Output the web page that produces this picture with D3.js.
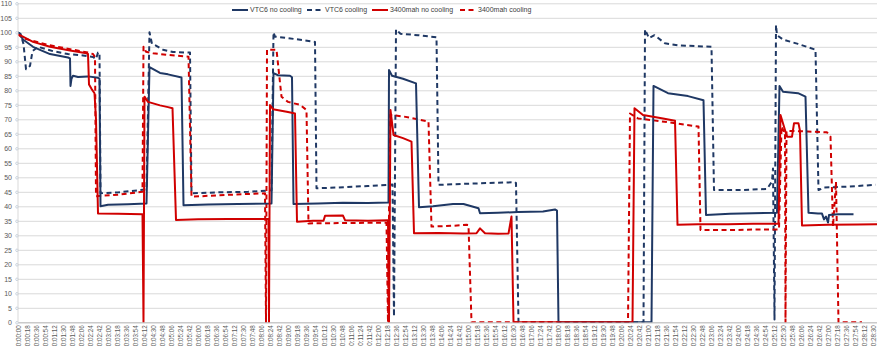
<!DOCTYPE html>
<html>
<head>
<meta charset="utf-8">
<script src="https://cdn.jsdelivr.net/npm/d3@7"></script>
<style>
    body { margin: 0; background: #fff; }
    svg { display: block; font-family: "Liberation Sans", "DejaVu Sans", sans-serif; }
    .y-axis text { font-size: 7px; fill: #595959; }
    .x-axis text { font-size: 6.3px; fill: #595959; }
    .legend text { font-size: 7px; fill: #404040; }
</style>
</head>
<body>
<div id="chart"></div>
<script>
// series names, in legend order
const seriesNames = ["VTC6 no cooling", "VTC6 cooling", "3400mah no cooling", "3400mah cooling"];

// y axis tick values
const yTicks = d3.range(0, 111, 5);

// x axis: a label every 18 seconds, from 0:00:00 to 0:28:30
const xTickSeconds = d3.range(0, 1711, 18);

// [seconds, value]
const vtc6NoCooling = [
    [0, 100], [3, 99.5], [10, 97.5], [30, 95], [64, 92.5], [100, 91.3], [104, 91], [105, 81.5], [107, 84],
    [110, 85], [120, 84.6], [140, 84.8], [160, 84.3], [163, 84], [165, 40], [180, 40.5], [220, 40.7],
    [257, 41], [263, 88], [284, 86], [300, 85.5], [327, 84.4], [331, 40.4], [380, 40.6], [440, 40.8],
    [507, 41], [511, 85.9], [520, 85.2], [544, 85], [548, 84.5], [551, 40.8], [600, 41], [650, 41.2],
    [700, 41.1], [741, 41.3], [742, 87], [748, 85], [770, 84], [796, 82.4], [802, 39.7], [830, 40],
    [870, 40.8], [891, 40.8], [921, 39.3], [924, 37.6], [960, 37.8], [1000, 38], [1050, 38.2],
    [1074, 38.9], [1078, 38.5], [1081, 0], [1267, 0], [1271, 81.5], [1300, 79], [1340, 78],
    [1371, 76.6], [1376, 37], [1424, 37.4], [1470, 37.6], [1518, 37.8], [1523, 81.5], [1530, 79.5],
    [1560, 79], [1575, 77.8], [1581, 37.8], [1600, 37.5], [1608, 37.5], [1612, 35.5], [1616, 36.5],
    [1620, 34.4], [1622, 37], [1640, 37.3], [1671, 37.3]
];

const vtc6Cooling = [
    [0, 100], [5, 99.5], [11, 96], [16, 87.3], [24, 88.4], [29, 93.5], [40, 95], [70, 93.5], [100, 92.5],
    [130, 92], [150, 91.5], [156, 90.8], [160, 93], [163, 93], [165, 44.5], [200, 44.8], [240, 45.5],
    [257, 45.8], [263, 100], [268, 96], [275, 95.5], [290, 94], [310, 93.2], [344, 93], [347, 44.5],
    [400, 44.8], [460, 45], [507, 45.5], [511, 100], [514, 98.5], [540, 98], [594, 96.7], [597, 46.2],
    [640, 46.5], [700, 47], [749, 47.5], [752, 2], [756, 101], [765, 99.5], [800, 99], [837, 98.3],
    [841, 47.4], [900, 47.8], [994, 48.3], [996, 48], [1001, 0], [1251, 0], [1254, 101], [1262, 98],
    [1273, 99], [1294, 96.2], [1320, 95.5], [1387, 95], [1392, 45.6], [1450, 45.6], [1498, 46],
    [1508, 48.5], [1510, 53], [1513, 1], [1516, 102.5], [1518, 99], [1530, 97.5], [1560, 96],
    [1595, 94], [1601, 45.6], [1612, 46.5], [1660, 46.8], [1715, 47.4]
];

const mah3400NoCooling = [
    [0, 99.2], [4, 99], [30, 96.7], [64, 95], [104, 93.7], [134, 92.9], [140, 92.5], [142, 82],
    [147, 80.5], [153, 79], [156, 70], [160, 37.5], [200, 37.4], [249, 37.3], [251, 0], [253, 77.8],
    [260, 76], [284, 74.8], [300, 74.2], [309, 73.8], [316, 35.3], [360, 35.5], [420, 35.6], [501, 35.6],
    [502, 0], [504, 74.9], [510, 73.5], [540, 72.5], [554, 72], [558, 34.7], [590, 35], [611, 35],
    [614, 36.7], [650, 36.8], [654, 35.2], [700, 35], [740, 35.2], [742, 0], [745, 73.2], [751, 64.6],
    [770, 63.5], [787, 62.3], [792, 30.7], [840, 30.8], [890, 30.6], [917, 30.7], [924, 32.4],
    [934, 30.7], [960, 30.5], [981, 30.6], [987, 36.5], [991, 0], [1229, 0], [1233, 73.8],
    [1250, 71.5], [1290, 70.3], [1314, 69.5], [1319, 33.6], [1360, 33.8], [1420, 33.8], [1470, 34],
    [1521, 34], [1525, 71.5], [1538, 64], [1548, 64], [1552, 68.6], [1561, 68.6], [1564, 66],
    [1568, 33.4], [1620, 33.6], [1680, 33.7], [1718, 33.8]
];

const mah3400Cooling = [
    [0, 99.3], [10, 98], [30, 97], [64, 95.5], [110, 94], [140, 93], [150, 92.5], [154, 91.5],
    [156, 43.5], [200, 44], [240, 44.8], [249, 45], [251, 95], [256, 93.3], [270, 92.8], [300, 92.2],
    [341, 91.6], [347, 43.3], [400, 43.8], [494, 44.5], [496, 0], [498, 94], [517, 94], [527, 77.8],
    [540, 76], [564, 75], [577, 73.2], [581, 34.1], [640, 34.2], [700, 34.3], [737, 34.3], [740, 0],
    [744, 71.5], [770, 71], [800, 70], [821, 69.2], [827, 33], [870, 33.3], [897, 33.6], [901, 33.5],
    [907, 0], [1220, 0], [1224, 72], [1240, 70.3], [1300, 69], [1361, 67.5], [1365, 31.8],
    [1420, 31.8], [1480, 32], [1522, 32], [1527, 67.5], [1531, 66], [1534, 66], [1535, 0], [1537, 66],
    [1580, 65.8], [1618, 65.5], [1625, 64], [1630, 33], [1636, 48.5], [1641, 0], [1688, 0]
];

class TimeLineChart {
    constructor(_config, _series) {
        this.config = {
            parentElement: _config.parentElement,
            width: _config.width,
            height: _config.height
        }
        this.series = _series;
        this.InitVis();
    }

    InitVis() {
        const vis = this;

        vis.margin = {top: 3.3, right: 0, bottom: 29.7, left: 18};
        vis.width = vis.config.width - vis.margin.left - vis.margin.right;
        vis.height = vis.config.height - vis.margin.top - vis.margin.bottom;

        vis.svg = d3.select(vis.config.parentElement)
            .append("svg")
            .attr("width", vis.config.width)
            .attr("height", vis.config.height);

        vis.chart = vis.svg.append("g")
            .attr("transform", `translate(${vis.margin.left},${vis.margin.top})`);

        // seconds on x, one pixel per two seconds
        vis.x = d3.scaleLinear()
            .domain([0, 1718])
            .range([0, vis.width]);

        vis.y = d3.scaleLinear()
            .domain([0, 110])
            .range([vis.height, 0]);

        vis.yG = vis.chart.append("g").attr("class", "y-axis");
        vis.xG = vis.chart.append("g")
            .attr("class", "x-axis")
            .attr("transform", `translate(0,${vis.height})`);

        vis.svg.append("clipPath")
            .attr("id", "plot-clip")
            .append("rect")
            .attr("x", 0)
            .attr("y", -4)
            .attr("width", vis.width)
            .attr("height", vis.height + 4);

        vis.lineG = vis.chart.append("g").attr("clip-path", "url(#plot-clip)");
        vis.legendG = vis.svg.append("g").attr("class", "legend");

        vis.RenderVis();
    }

    RenderVis() {
        const vis = this;

        // horizontal gridlines + labels
        vis.yG.call(d3.axisLeft(vis.y)
                .tickValues(yTicks)
                .tickSize(-vis.width)
                .tickPadding(6))
            .call(g => g.select(".domain").remove())
            .call(g => g.selectAll(".tick line")
                .attr("stroke", "#d9d9d9")
                .attr("stroke-width", 1));

        vis.yG.selectAll(".tick")
            .append("circle")
            .attr("cx", -1)
            .attr("r", 1.3)
            .attr("fill", "none")
            .attr("stroke", "#b4c3d2")
            .attr("stroke-width", 0.7);

        vis.chart.append("line")
            .attr("x1", 0).attr("x2", 0)
            .attr("y1", 0).attr("y2", vis.height)
            .attr("stroke", "#d9d9d9");

        const fmt = s => `${Math.floor(s / 3600)}:${String(Math.floor(s / 60) % 60).padStart(2, "0")}:${String(s % 60).padStart(2, "0")}`;

        vis.xG.call(d3.axisBottom(vis.x)
                .tickValues(xTickSeconds)
                .tickFormat(fmt)
                .tickSize(0))
            .call(g => g.select(".domain").attr("stroke", "#bfbfbf"))
            .selectAll("text")
            .attr("transform", "rotate(-90)")
            .attr("x", -3)
            .attr("y", 0)
            .attr("dy", "0.35em")
            .style("text-anchor", "end");

        const styles = [
            {color: "#1f3864", dash: null},
            {color: "#1f3864", dash: "5,3.5"},
            {color: "#d00000", dash: null},
            {color: "#d00000", dash: "5,3.5"}
        ];

        const line = d3.line()
            .x(d => vis.x(d[0]))
            .y(d => vis.y(d[1]));

        // draw cooled runs first so the solid ones sit on top like the original
        const order = [1, 3, 0, 2];
        vis.lineG.selectAll("path")
            .data(order)
            .join("path")
            .attr("d", i => line(vis.series[i]))
            .attr("fill", "none")
            .attr("stroke", i => styles[i].color)
            .attr("stroke-width", 2)
            .attr("stroke-linejoin", "round")
            .attr("stroke-dasharray", i => styles[i].dash);

        // legend across the top
        const legendX = [232, 307, 372, 460];
        const items = vis.legendG.selectAll("g")
            .data(seriesNames)
            .join("g")
            .attr("transform", (d, i) => `translate(${legendX[i]},10)`);

        items.append("line")
            .attr("x1", 0).attr("x2", 16)
            .attr("stroke", (d, i) => styles[i].color)
            .attr("stroke-width", 2)
            .attr("stroke-dasharray", (d, i) => styles[i].dash);

        items.append("text")
            .attr("x", 18)
            .attr("dy", "0.35em")
            .text(d => d);
    }
}

const chart = new TimeLineChart(
    {parentElement: "#chart", width: 877, height: 352},
    [vtc6NoCooling, vtc6Cooling, mah3400NoCooling, mah3400Cooling]
);
</script>
</body>
</html>
